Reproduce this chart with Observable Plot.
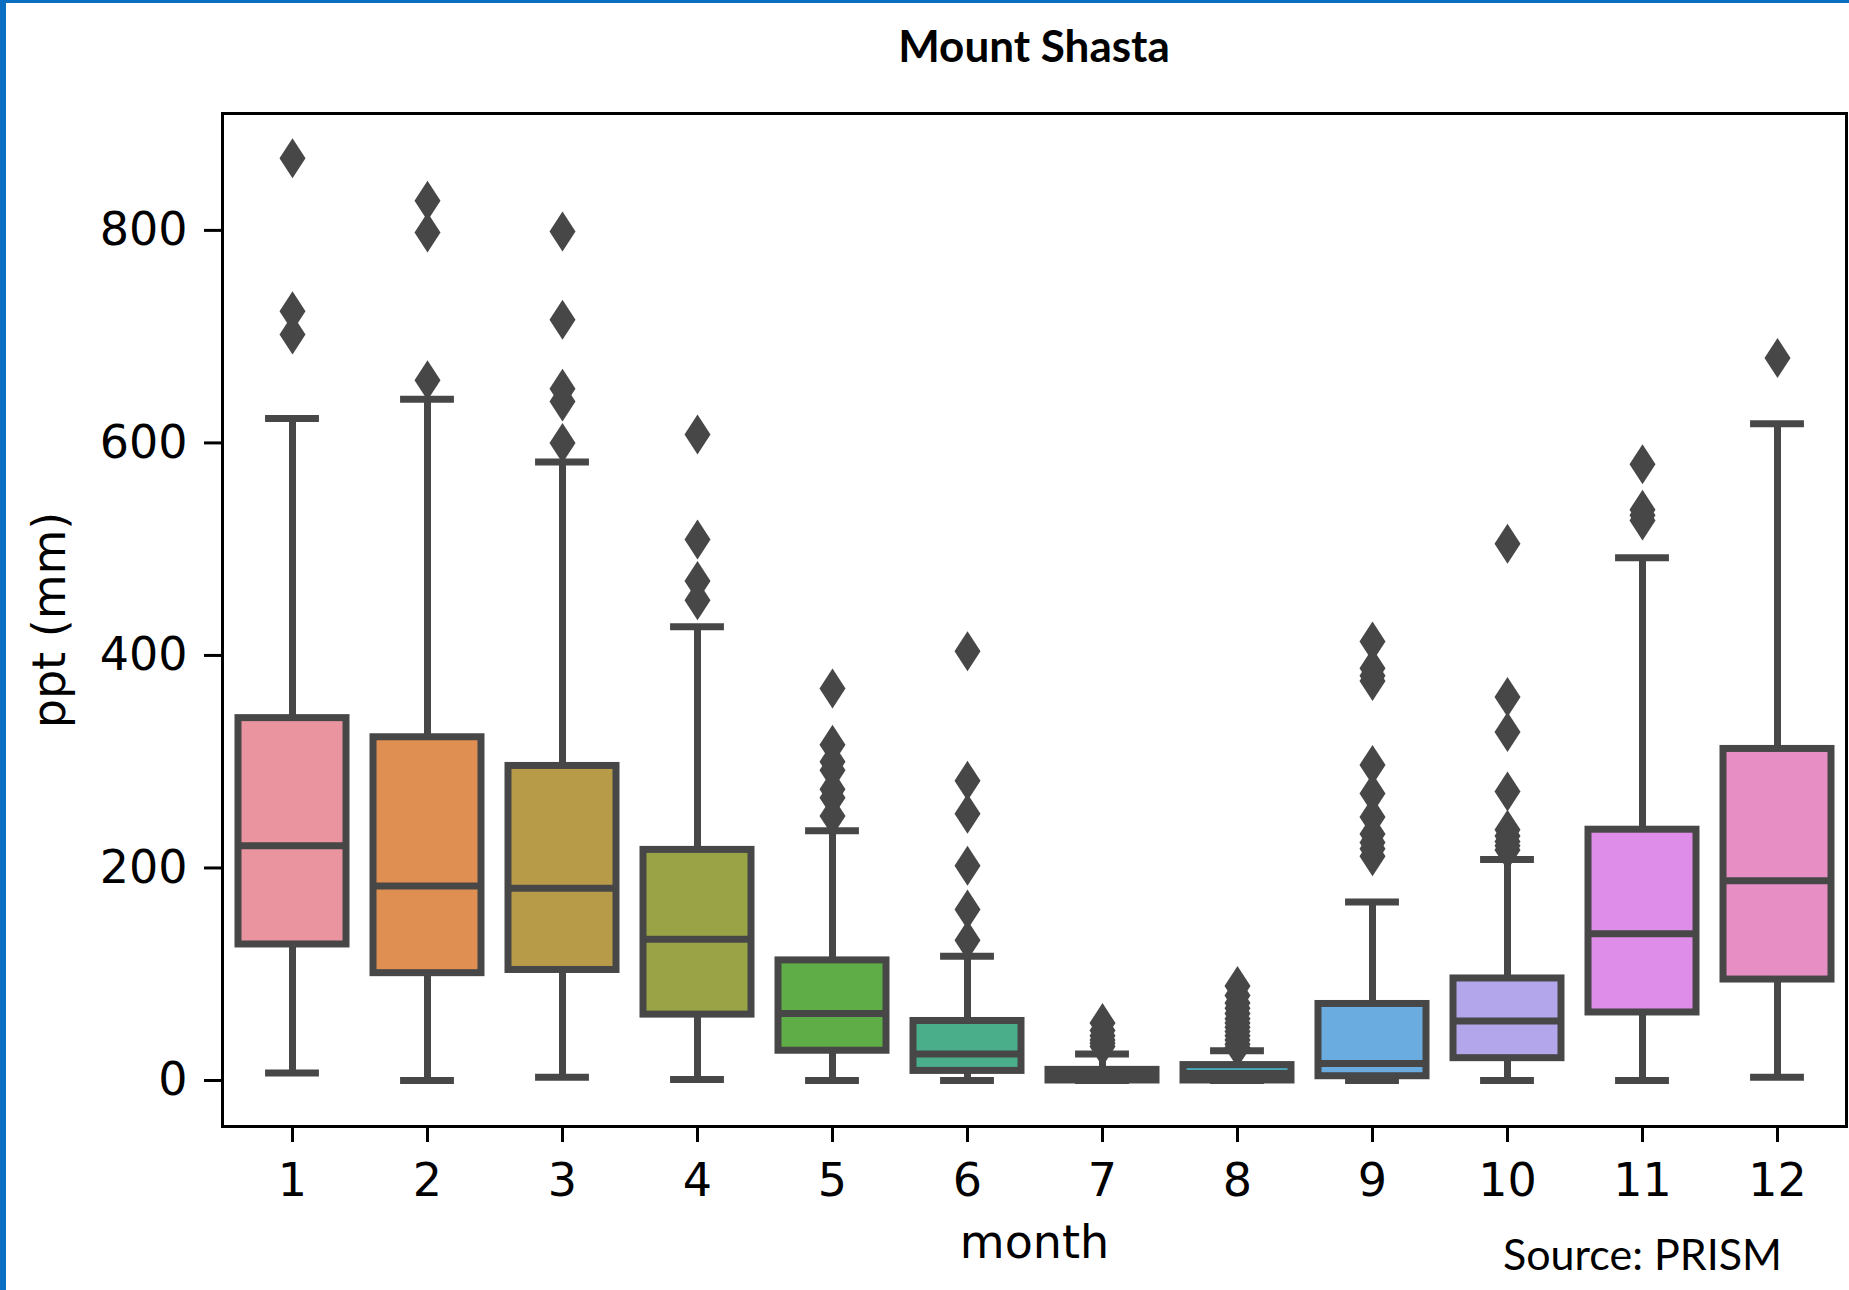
<!DOCTYPE html>
<html lang="en">
<head>
<meta charset="utf-8">
<title>Mount Shasta</title>
<script src="https://cdn.jsdelivr.net/npm/d3@7"></script>
<script src="https://cdn.jsdelivr.net/npm/@observablehq/plot@0.6"></script>
<style>
  html, body { margin: 0; padding: 0; background: #fff; }
  body { width: 1849px; height: 1290px; position: relative; overflow: hidden; }
  .edge-left { position: absolute; left: 0; top: 0; width: 6px; height: 1290px; background: #0a6fc1; z-index: 2; }
  .edge-top { position: absolute; left: 0; top: 0; width: 1849px; height: 3px; background: #0a6fc1; z-index: 2; }
  #title { position: absolute; left: 222px; width: 1624px; top: 23px; text-align: center;
           font: bold 44px/44px Lato, "Open Sans", sans-serif; color: #000; }
  #chart { position: absolute; left: 0; top: 100px; }
  #source { position: absolute; left: 1503px; top: 1232px; font: 43px/43px Lato, "Open Sans", sans-serif; color: #000; }
</style>
</head>
<body>
<div class="edge-left"></div>
<div class="edge-top"></div>
<div id="title">Mount Shasta</div>
<div id="chart"></div>
<div id="source">Source: PRISM</div>
<script>
// Monthly precipitation (ppt, mm) distribution summaries, Mount Shasta
const months = [1, 2, 3, 4, 5, 6, 7, 8, 9, 10, 11, 12];
const whiskerLow = [7, 0, 3, 1, 0, 0, 0, 0, 0, 0, 0, 3];
const q1 = [128, 101, 104, 62, 28, 9, 0, 0, 4, 21, 64, 95];
const medians = [221, 183, 181, 133, 63, 25, 5, 6.5, 16, 56, 138, 188];
const q3 = [341, 323, 296, 217, 113, 56, 10, 14.5, 72, 96, 236, 312];
const whiskerHigh = [623, 641, 582, 427, 235, 117, 25, 28, 168, 208, 492, 618];
const outliers = [
  [868, 724, 702],
  [828, 798, 659],
  [799, 716, 651, 639, 600],
  [608, 509, 470, 452],
  [369, 316, 300, 292, 274, 266, 249],
  [404, 282, 251, 202, 161, 132],
  [54, 47, 42, 38, 35, 32],
  [89, 80, 73, 68, 63, 58, 54, 50, 46, 42, 38, 34, 31],
  [413, 388, 381, 376, 297, 270, 248, 232, 224, 218, 211],
  [505, 361, 328, 272, 236, 230, 225, 221, 217],
  [580, 537, 532, 527],
  [680]
];

// Box fill per month
const boxColors = ["#e9949f", "#e08f53", "#b89b49", "#9aa447", "#5fad47", "#4aae8a",
                   "#4aabab", "#49a8bb", "#6aace0", "#b4a6ea", "#de8ee8", "#e78fc5"];

const boxes = months.map((m, i) => ({
  month: m, low: whiskerLow[i], q1: q1[i], median: medians[i], q3: q3[i], high: whiskerHigh[i]
}));
const fliers = months.flatMap((m, i) => outliers[i].map((v) => ({month: m, ppt: v})));

// Narrow diamond flier marker
const thinDiamond = {
  draw(context, size) {
    const h = Math.sqrt(size / Math.PI);
    const w = h * 0.65;
    context.moveTo(0, -h);
    context.lineTo(w, 0);
    context.lineTo(0, h);
    context.lineTo(-w, 0);
    context.closePath();
  }
};

const width = 1849, height = 1190;
const marginLeft = 222, marginRight = 3, marginTop = 13, marginBottom = 164;
const step = (width - marginLeft - marginRight) / months.length;
const capInset = step * 0.8 * 0.25;
const edge = "#474747";
const lw = 7;

const chart = Plot.plot({
  width, height, marginLeft, marginRight, marginTop, marginBottom,
  style: {fontFamily: "'DejaVu Sans', sans-serif", fontSize: "46px", color: "#000", background: "transparent", overflow: "visible"},
  x: {type: "band", domain: months, paddingInner: 0.2, paddingOuter: 0.1},
  y: {domain: [-43.3, 910]},
  color: {type: "ordinal", domain: months, range: boxColors},
  marks: [
    Plot.ruleX(boxes, {x: "month", y1: "low", y2: "q1", stroke: edge, strokeWidth: lw}),
    Plot.ruleX(boxes, {x: "month", y1: "q3", y2: "high", stroke: edge, strokeWidth: lw}),
    Plot.tickY(boxes, {x: "month", y: "low", stroke: edge, strokeWidth: lw, insetLeft: capInset, insetRight: capInset}),
    Plot.tickY(boxes, {x: "month", y: "high", stroke: edge, strokeWidth: lw, insetLeft: capInset, insetRight: capInset}),
    Plot.barY(boxes, {x: "month", y1: "q1", y2: "q3", fill: "month", stroke: edge, strokeWidth: lw}),
    Plot.tickY(boxes, {x: "month", y: "median", stroke: edge, strokeWidth: lw}),
    Plot.dot(fliers, {x: "month", y: "ppt", symbol: thinDiamond, r: 20, fill: edge, stroke: "none"}),
    Plot.frame({stroke: "#000", strokeWidth: 3}),
    Plot.axisY({
      ticks: [0, 200, 400, 600, 800], tickSize: 18, tickPadding: 17, strokeWidth: 3,
      label: "ppt (mm)", labelAnchor: "center", labelOffset: 190, labelArrow: "none"
    }),
    Plot.axisX({
      tickSize: 16, tickPadding: 21, strokeWidth: 3,
      label: "month", labelAnchor: "center", labelOffset: 131, labelArrow: "none"
    })
  ]
});
document.getElementById("chart").appendChild(chart);
</script>
</body>
</html>
